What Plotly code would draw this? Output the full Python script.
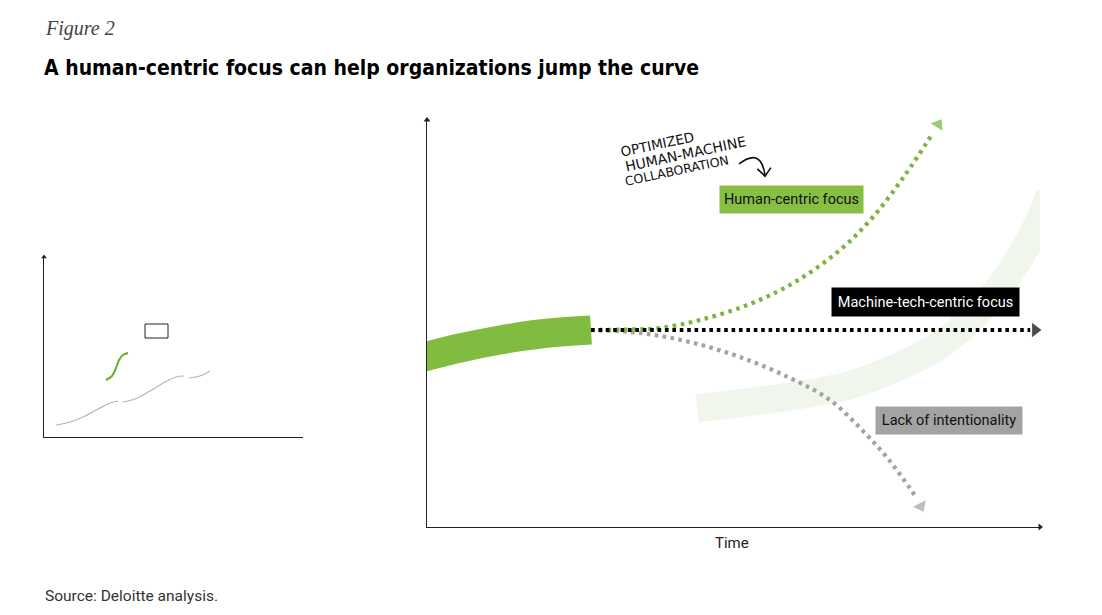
import plotly.graph_objects as go

# ---------------- data (main chart: time 0-100, value 0-100) ----------------
band_t = [-1.14, 5.38, 11.91, 18.43, 26.75]
band_v = [41.52, 43.98, 45.95, 47.42, 48.40]

human_t = [26.75, 33.12, 38.01, 44.54, 52.69, 60.03, 67.37, 72.76, 77.98, 82.54, 83.40]
human_v = [48.40, 48.53, 48.89, 50.86, 54.79, 60.20, 68.06, 76.17, 86.49, 96.81, 98.90]

machine_t = [26.75, 98.4, 99.2]
machine_v = [48.40, 48.40, 48.40]

lack_t = [26.75, 34.75, 42.90, 51.06, 59.22, 65.74, 70.96, 75.37, 79.77, 80.55]
lack_v = [48.40, 47.67, 45.45, 41.77, 36.61, 31.20, 23.83, 16.46, 7.37, 5.10]

next_t = [44.05, 52.69, 60.85, 69.00, 77.16, 83.69, 88.58, 92.66, 95.92, 99.18, 101.63]
next_v = [29.24, 30.71, 32.43, 34.89, 39.56, 44.72, 50.86, 57.49, 64.37, 72.97, 81.57]

labels = ["Human-centric focus", "Machine-tech-centric focus", "Lack of intentionality"]
label_t = [59.46, 81.40, 85.15]
label_v = [80.47, 55.28, 26.29]

note_lines = ["OPTIMIZED", "HUMAN-MACHINE", "COLLABORATION"]
note_t = [37.68, 42.09, 40.78]
note_v = [94.10, 91.65, 87.47]
note_size = [13.5, 14, 12.5]

# ---------------- data (small inset chart: 0-100 both axes) ----------------
s1_u = [4.63, 10.04, 15.83, 21.62, 25.48, 28.57]
s1_w = [6.67, 8.33, 11.67, 16.11, 18.89, 20.00]
s2_u = [30.50, 35.14, 40.93, 46.72, 50.97, 54.05]
s2_w = [19.44, 21.11, 25.56, 30.56, 33.33, 33.89]
s3_u = [55.98, 60.23, 64.09]
s3_w = [32.78, 33.89, 36.67]
jump_u = [23.94, 26.25, 27.80, 28.96, 30.50, 32.43]
jump_w = [31.67, 33.89, 38.33, 42.78, 45.56, 46.67]

GREEN = "#80bc3f"
GREEN_DOT = "#7ab540"
GREEN_BOX = "#86bf43"
GREY = "#a3a3a3"
AXIS = "#222222"
LABEL_FONT = "Roboto, Liberation Sans, sans-serif"

fig = go.Figure()
MX, MY = "x2", "y2"

# pale "next curve" band
fig.add_trace(go.Scatter(x=next_t, y=next_v, xaxis=MX, yaxis=MY, mode="lines",
                         line=dict(color="#f0f6eb", width=28, shape="spline"),
                         hoverinfo="skip"))
# current green band
fig.add_trace(go.Scatter(x=band_t, y=band_v, xaxis=MX, yaxis=MY, mode="lines",
                         line=dict(color=GREEN, width=29, shape="spline"),
                         hoverinfo="skip"))

def dotted(t, v, color, dash, spline=True):
    fig.add_trace(go.Scatter(x=t[:-1], y=v[:-1], xaxis=MX, yaxis=MY, mode="lines",
                             line=dict(color=color, width=4.2, dash=dash,
                                       shape="spline" if spline else "linear"),
                             hoverinfo="skip"))
    fig.add_trace(go.Scatter(x=t[-2:], y=v[-2:], xaxis=MX, yaxis=MY, mode="markers",
                             marker=dict(symbol="triangle-up", size=[0, 14], color=color,
                                         angleref="previous"),
                             cliponaxis=False, hoverinfo="skip"))

dotted(lack_t, lack_v, GREY, "3.6px,4.4px")
dotted(human_t, human_v, GREEN_DOT, "3.6px,4.6px")
dotted(machine_t, machine_v, "#000000", "3.6px,3.8px", spline=False)

# main axis arrowheads
fig.add_trace(go.Scatter(x=[0, 100], y=[100, 0], xaxis=MX, yaxis=MY, mode="markers",
                         marker=dict(symbol=["triangle-up", "triangle-right"], size=6, color=AXIS),
                         cliponaxis=False, hoverinfo="skip"))

# inset chart
for u, w in [(s1_u, s1_w), (s2_u, s2_w), (s3_u, s3_w)]:
    fig.add_trace(go.Scatter(x=u, y=w, xaxis="x", yaxis="y", mode="lines",
                             line=dict(color="#b5b5b5", width=1.2, shape="spline"),
                             hoverinfo="skip"))
fig.add_trace(go.Scatter(x=jump_u, y=jump_w, xaxis="x", yaxis="y", mode="lines",
                         line=dict(color="#6aab2c", width=2, shape="spline"),
                         hoverinfo="skip"))
fig.add_trace(go.Scatter(x=[0], y=[100], xaxis="x", yaxis="y", mode="markers",
                         marker=dict(symbol="triangle-up", size=5, color=AXIS),
                         cliponaxis=False, hoverinfo="skip"))

shapes = [
    dict(type="rect", xref="x", yref="y", x0=39.0, x1=47.88, y0=55.0, y1=62.78,
         line=dict(color="#222222", width=1), fillcolor="rgba(0,0,0,0)"),
    # hand-drawn curved arrow
    dict(type="path", xref="x2", yref="y2",
         path="M 50.9,89.2 Q 54.6,93.4 55.14,86.2",
         line=dict(color="#111111", width=1.6)),
    dict(type="path", xref="x2", yref="y2",
         path="M 53.9,88.0 L 55.14,86.2 L 56.1,88.3",
         line=dict(color="#111111", width=1.6)),
]

annotations = [
    dict(text="Figure 2", xref="paper", yref="paper", x=43/1102, y=(615-28)/615,
         xanchor="left", yanchor="middle", showarrow=False,
         font=dict(family="Liberation Serif, DejaVu Serif, serif", size=20, color="#444444", style="italic")),
    dict(text="<b>A human-centric focus can help organizations jump the curve</b>",
         xref="paper", yref="paper", x=42/1102, y=(615-68)/615,
         xanchor="left", yanchor="middle", showarrow=False,
         font=dict(family="DejaVu Sans Condensed, sans-serif", size=21, color="#000000")),
    dict(text="Time", xref="paper", yref="paper", x=732/1102, y=(615-543)/615,
         xanchor="center", yanchor="middle", showarrow=False,
         font=dict(family=LABEL_FONT, size=15, color="#222222")),
    dict(text="Source: Deloitte analysis.", xref="paper", yref="paper", x=43/1102, y=(615-596)/615,
         xanchor="left", yanchor="middle", showarrow=False,
         font=dict(family=LABEL_FONT, size=15.5, color="#333333")),
]

for txt, t, v, sz in zip(note_lines, note_t, note_v, note_size):
    annotations.append(dict(text=txt, xref="x2", yref="y2", x=t, y=v,
                            xanchor="center", yanchor="middle", showarrow=False,
                            textangle=-12,
                            font=dict(family="DejaVu Sans, sans-serif", size=sz, color="#111111")))

box_styles = [
    dict(bg=GREEN_BOX, fg="#111111", w=143, h=27),
    dict(bg="#000000", fg="#ffffff", w=187, h=28),
    dict(bg=GREY, fg="#111111", w=146, h=27),
]
for txt, t, v, st in zip(labels, label_t, label_v, box_styles):
    annotations.append(dict(text=txt, xref="x2", yref="y2", x=t, y=v,
                            xanchor="center", yanchor="middle", showarrow=False,
                            bgcolor=st["bg"], width=st["w"], height=st["h"], borderpad=0,
                            font=dict(family=LABEL_FONT, size=14.5, color=st["fg"])))

axis_common = dict(showgrid=False, zeroline=False, showticklabels=False, ticks="",
                   showline=True, linecolor=AXIS, linewidth=1.4, fixedrange=True)

fig.update_layout(
    width=1102, height=615, margin=dict(l=0, r=0, t=0, b=0),
    paper_bgcolor="white", plot_bgcolor="white", showlegend=False,
    xaxis=dict(domain=[44/1102, 303/1102], range=[0, 100], anchor="y", **axis_common),
    yaxis=dict(domain=[(615-437)/615, (615-257)/615], range=[0, 100], anchor="x", **axis_common),
    xaxis2=dict(domain=[427/1102, 1040/1102], range=[0, 100], anchor="y2", **axis_common),
    yaxis2=dict(domain=[(615-527)/615, (615-120)/615], range=[0, 100], anchor="x2", **axis_common),
    shapes=shapes, annotations=annotations,
)

fig.write_html("out.html")
